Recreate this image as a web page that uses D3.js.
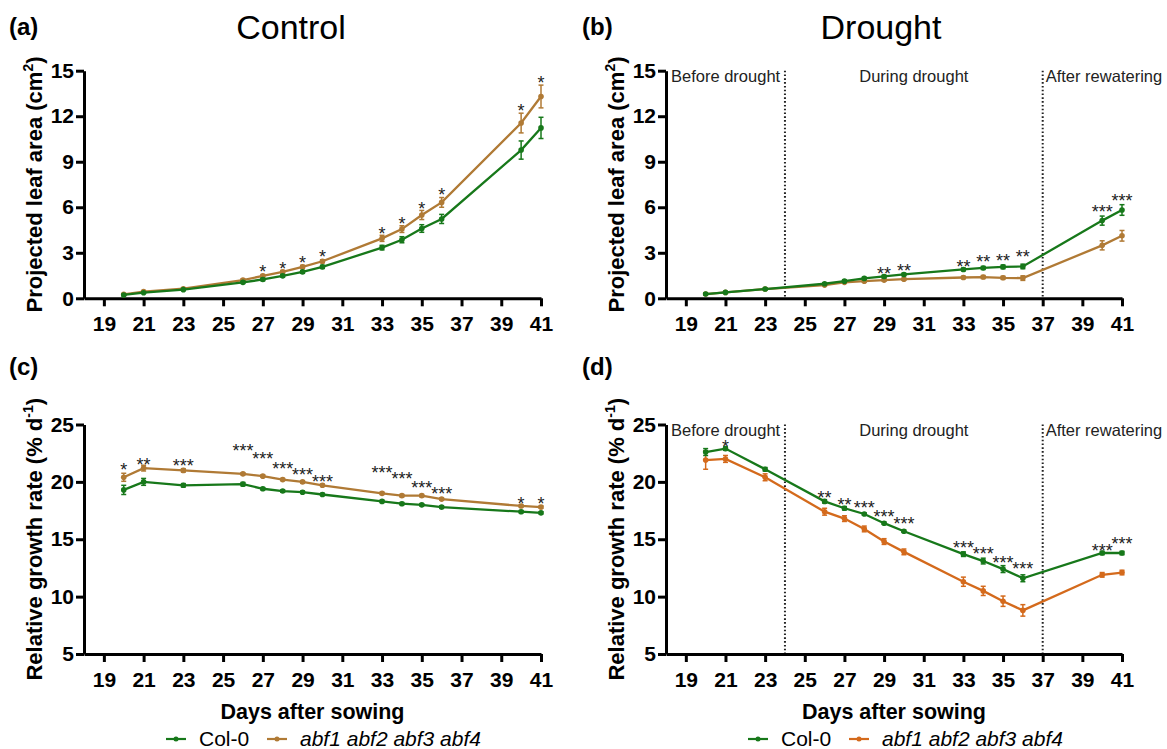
<!DOCTYPE html>
<html>
<head>
<meta charset="utf-8">
<style>
  body { margin: 0; background: #fff; }
  svg { display: block; font-family: "Liberation Sans", Arial, sans-serif; }
  .axis path, .axis line { stroke: #000; stroke-width: 3; }
  .axis text { font-size: 21px; font-weight: bold; fill: #000; }
</style>
<script src="https://cdn.jsdelivr.net/npm/d3@7"></script>
</head>
<body>
<script>
// days after sowing where plants were imaged
var days = [20, 21, 23, 26, 27, 28, 29, 30, 33, 34, 35, 36, 40, 41];
var xTicks = [19, 21, 23, 25, 27, 29, 31, 33, 35, 37, 39, 41];
var areaTicks = [0, 3, 6, 9, 12, 15];
var rgrTicks = [5, 10, 15, 20, 25];
var seriesNames = ["Col-0", "abf1 abf2 abf3 abf4"];

// (a) control, projected leaf area
var areaCtrlCol   = [0.22, 0.37, 0.57, 1.05, 1.24, 1.48, 1.74, 2.07, 3.34, 3.86, 4.60, 5.23, 9.77, 11.23];
var areaCtrlColSE = [0.04, 0.04, 0.05, 0.07, 0.08, 0.08, 0.09, 0.1, 0.15, 0.2, 0.25, 0.3, 0.6, 0.7];
var areaCtrlAbf   = [0.26, 0.44, 0.63, 1.20, 1.48, 1.74, 2.07, 2.44, 3.95, 4.56, 5.49, 6.32, 11.55, 13.3];
var areaCtrlAbfSE = [0.04, 0.04, 0.05, 0.07, 0.08, 0.09, 0.1, 0.1, 0.2, 0.22, 0.3, 0.32, 0.65, 0.75];
var areaCtrlStars = ["", "", "", "", "*", "*", "*", "*", "*", "*", "*", "*", "*", "*"];
var areaCtrlStarY = [null, null, null, null, 2.0, 2.22, 2.62, 3.0, 4.53, 5.19, 6.17, 7.13, 12.62, 14.5];

// (b) drought, projected leaf area
var areaDrCol   = [0.28, 0.39, 0.61, 0.96, 1.13, 1.31, 1.44, 1.57, 1.90, 2.00, 2.07, 2.10, 5.12, 5.82];
var areaDrColSE = [0.04, 0.04, 0.05, 0.06, 0.07, 0.07, 0.08, 0.08, 0.09, 0.1, 0.12, 0.15, 0.3, 0.35];
var areaDrAbf   = [0.28, 0.39, 0.61, 0.87, 1.05, 1.13, 1.20, 1.26, 1.37, 1.40, 1.35, 1.33, 3.49, 4.12];
var areaDrAbfSE = [0.04, 0.04, 0.05, 0.06, 0.06, 0.07, 0.07, 0.07, 0.08, 0.1, 0.1, 0.15, 0.3, 0.35];
var areaDrStars = ["", "", "", "", "", "", "**", "**", "**", "**", "**", "**", "***", "***"];
var areaDrStarY = [null, null, null, null, null, null, 1.93, 2.07, 2.35, 2.68, 2.77, 2.99, 6.0, 6.71];

// (c) control, relative growth rate
var rgrCtrlCol   = [19.3, 20.0, 19.7, 19.8, 19.4, 19.2, 19.1, 18.9, 18.3, 18.1, 18.0, 17.8, 17.4, 17.3];
var rgrCtrlColSE = [0.4, 0.3, 0.15, 0.15, 0.1, 0.1, 0.1, 0.1, 0.1, 0.1, 0.1, 0.1, 0.1, 0.1];
var rgrCtrlAbf   = [20.4, 21.2, 21.0, 20.7, 20.5, 20.2, 20.0, 19.7, 19.0, 18.8, 18.8, 18.5, 17.9, 17.8];
var rgrCtrlAbfSE = [0.35, 0.25, 0.15, 0.1, 0.1, 0.1, 0.1, 0.1, 0.1, 0.1, 0.1, 0.1, 0.1, 0.1];
var rgrCtrlStars = ["*", "**", "***", "***", "***", "***", "***", "***", "***", "***", "***", "***", "*", "*"];
var rgrCtrlStarY = [21.4, 21.9, 21.8, 23.05, 22.35, 21.5, 21.0, 20.4, 21.2, 20.6, 19.9, 19.3, 18.5, 18.5];

// (d) drought, relative growth rate
var rgrDrCol   = [22.6, 22.9, 21.1, 18.3, 17.7, 17.2, 16.4, 15.7, 13.7, 13.1, 12.4, 11.6, 13.8, 13.8];
var rgrDrColSE = [0.3, 0.15, 0.15, 0.15, 0.15, 0.1, 0.1, 0.1, 0.2, 0.25, 0.3, 0.3, 0.15, 0.15];
var rgrDrAbf   = [21.9, 22.0, 20.4, 17.4, 16.8, 15.9, 14.8, 13.9, 11.3, 10.5, 9.6, 8.8, 11.9, 12.1];
var rgrDrAbfSE = [0.8, 0.3, 0.3, 0.3, 0.25, 0.25, 0.25, 0.25, 0.4, 0.4, 0.45, 0.5, 0.2, 0.2];
var rgrDrStars = ["", "*", "", "**", "**", "***", "***", "***", "***", "***", "***", "***", "***", "***"];
var rgrDrStarY = [null, 23.4, null, 19.0, 18.4, 18.1, 17.34, 16.76, 14.67, 14.08, 13.33, 12.77, 14.37, 15.0];

// drought phases
var phaseBreaks = [24, 37];
var phaseLabels = ["Before drought", "During drought", "After rewatering"];

var green = "#17781a", brown = "#b07a35", orange = "#d46a1c";

var svg = d3.select("body").append("svg")
  .attr("width", 1167).attr("height", 749);

var panels = [
  { tag: "(a)", left: 84, right: 541, top: 70.7, bottom: 298.3, dom: [0, 15], ticks: areaTicks,
    col: areaCtrlCol, colSE: areaCtrlColSE, abf: areaCtrlAbf, abfSE: areaCtrlAbfSE,
    stars: areaCtrlStars, starY: areaCtrlStarY, abfColor: brown, drought: false, ylab: "area" },
  { tag: "(b)", left: 666, right: 1122, top: 70.7, bottom: 298.3, dom: [0, 15], ticks: areaTicks,
    col: areaDrCol, colSE: areaDrColSE, abf: areaDrAbf, abfSE: areaDrAbfSE,
    stars: areaDrStars, starY: areaDrStarY, abfColor: brown, drought: true, ylab: "area" },
  { tag: "(c)", left: 84, right: 541, top: 424.5, bottom: 654, dom: [5, 25], ticks: rgrTicks,
    col: rgrCtrlCol, colSE: rgrCtrlColSE, abf: rgrCtrlAbf, abfSE: rgrCtrlAbfSE,
    stars: rgrCtrlStars, starY: rgrCtrlStarY, abfColor: brown, drought: false, ylab: "rgr" },
  { tag: "(d)", left: 666, right: 1122, top: 424.5, bottom: 654, dom: [5, 25], ticks: rgrTicks,
    col: rgrDrCol, colSE: rgrDrColSE, abf: rgrDrAbf, abfSE: rgrDrAbfSE,
    stars: rgrDrStars, starY: rgrDrStarY, abfColor: orange, drought: true, ylab: "rgr" }
];

panels.forEach(function(p) {
  var x = d3.scaleLinear().domain([18, 41]).range([p.left, p.right]);
  var y = d3.scaleLinear().domain(p.dom).range([p.bottom, p.top]);
  var g = svg.append("g");

  // phase separators + labels
  if (p.drought) {
    g.selectAll(".phase").data(phaseBreaks).enter().append("line")
      .attr("x1", function(d) { return x(d); }).attr("x2", function(d) { return x(d); })
      .attr("y1", p.top).attr("y2", p.bottom)
      .attr("stroke", "#222").attr("stroke-width", 2)
      .attr("stroke-dasharray", "1.6,2.2");
    var ty = p.top + 11;
    g.append("text").attr("x", p.left + 5).attr("y", ty).text(phaseLabels[0])
      .attr("font-size", 16.5).attr("fill", "#222");
    g.append("text").attr("x", (x(phaseBreaks[0]) + x(phaseBreaks[1])) / 2).attr("y", ty)
      .attr("text-anchor", "middle").text(phaseLabels[1])
      .attr("font-size", 16.5).attr("fill", "#222");
    g.append("text").attr("x", x(phaseBreaks[1]) + 3).attr("y", ty).text(phaseLabels[2])
      .attr("font-size", 16.5).attr("fill", "#222");
  }

  // axes
  g.append("g").attr("class", "axis")
    .attr("transform", "translate(0," + p.bottom + ")")
    .call(d3.axisBottom(x).tickValues(xTicks).tickSize(8).tickSizeOuter(0).tickPadding(10));
  g.append("g").attr("class", "axis")
    .attr("transform", "translate(" + p.left + ",0)")
    .call(d3.axisLeft(y).tickValues(p.ticks).tickSize(8).tickSizeOuter(0).tickPadding(2));

  // y title
  var yt = g.append("text")
    .attr("transform", "translate(" + (p.left - 42) + "," + ((p.top + p.bottom) / 2) + ") rotate(-90)")
    .attr("text-anchor", "middle").attr("font-size", 22).attr("font-weight", "bold");
  if (p.ylab === "area") {
    yt.append("tspan").text("Projected leaf area (cm");
    yt.append("tspan").attr("dy", -9).attr("font-size", 14).text("2");
    yt.append("tspan").attr("dy", 9).text(")");
  } else {
    yt.append("tspan").text("Relative growth rate (% d");
    yt.append("tspan").attr("dy", -9).attr("font-size", 14).text("-1");
    yt.append("tspan").attr("dy", 9).text(")");
  }

  // series: mutant first, Col-0 on top
  var series = [
    { v: p.abf, se: p.abfSE, c: p.abfColor },
    { v: p.col, se: p.colSE, c: green }
  ];
  var line = d3.line().x(function(d) { return x(d[0]); }).y(function(d) { return y(d[1]); });
  series.forEach(function(s) {
    var pts = days.map(function(d, i) { return [d, s.v[i], s.se[i]]; });
    var sg = g.append("g");
    sg.append("path").datum(pts).attr("d", line)
      .attr("fill", "none").attr("stroke", s.c).attr("stroke-width", 2.3);
    var eb = sg.selectAll(".eb").data(pts).enter().append("g").attr("stroke", s.c).attr("stroke-width", 1.5);
    eb.append("line")
      .attr("x1", function(d) { return x(d[0]); }).attr("x2", function(d) { return x(d[0]); })
      .attr("y1", function(d) { return y(d[1] - d[2]); }).attr("y2", function(d) { return y(d[1] + d[2]); });
    eb.append("line")
      .attr("x1", function(d) { return x(d[0]) - 2.5; }).attr("x2", function(d) { return x(d[0]) + 2.5; })
      .attr("y1", function(d) { return y(d[1] + d[2]); }).attr("y2", function(d) { return y(d[1] + d[2]); });
    eb.append("line")
      .attr("x1", function(d) { return x(d[0]) - 2.5; }).attr("x2", function(d) { return x(d[0]) + 2.5; })
      .attr("y1", function(d) { return y(d[1] - d[2]); }).attr("y2", function(d) { return y(d[1] - d[2]); });
    sg.selectAll("circle").data(pts).enter().append("circle")
      .attr("cx", function(d) { return x(d[0]); }).attr("cy", function(d) { return y(d[1]); })
      .attr("r", 2.8).attr("fill", s.c);
  });

  // significance stars
  var st = days.map(function(d, i) { return { d: d, s: p.stars[i], v: p.starY[i] }; })
    .filter(function(o) { return o.s !== ""; });
  g.selectAll(".star").data(st).enter().append("text")
    .attr("x", function(o) { return x(o.d); })
    .attr("y", function(o) { return y(o.v) + 10.5; })
    .attr("text-anchor", "middle").attr("font-size", 18).attr("fill", "#222")
    .text(function(o) { return o.s; });

  // panel tag
  svg.append("text").attr("x", p.left < 300 ? 9 : 582).attr("y", p.top < 200 ? 35 : 375)
    .attr("font-size", 24).attr("font-weight", "bold").text(p.tag);

  // x title + legend in bottom row
  if (p.top > 200) {
    var cx = (p.left + p.right) / 2;
    g.append("text").attr("x", cx).attr("y", 719).attr("text-anchor", "middle")
      .attr("font-size", 21.5).attr("font-weight", "bold").text("Days after sowing");
    var lg = g.append("g").attr("transform", "translate(" + (p.left + 82) + ",739)");
    var items = [{ c: green, t: seriesNames[0], dx: 0 }, { c: p.abfColor, t: seriesNames[1], dx: 101 }];
    items.forEach(function(it, k) {
      var ig = lg.append("g").attr("transform", "translate(" + it.dx + ",0)");
      ig.append("line").attr("x1", 0).attr("x2", 20).attr("stroke", it.c).attr("stroke-width", 2.2);
      ig.append("circle").attr("cx", 10).attr("r", 2.5).attr("fill", it.c);
      ig.append("text").attr("x", 33).attr("y", 7).attr("font-size", 21)
        .attr("font-style", k === 1 ? "italic" : "normal").text(it.t);
    });
  }
});

// column titles
svg.append("text").attr("x", 291).attr("y", 39).attr("text-anchor", "middle")
  .attr("font-size", 34).text("Control");
svg.append("text").attr("x", 881).attr("y", 39).attr("text-anchor", "middle")
  .attr("font-size", 34).text("Drought");
</script>
</body>
</html>
